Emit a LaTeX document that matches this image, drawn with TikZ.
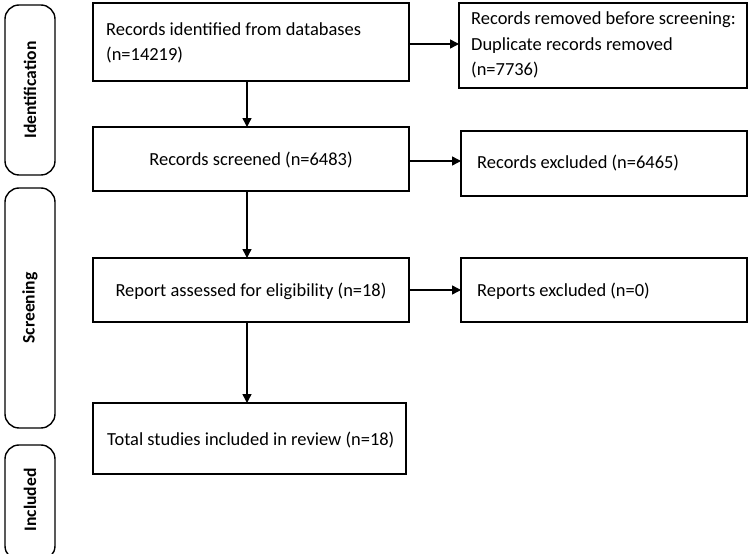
\documentclass[tikz,border=0pt]{standalone}
\usepackage{fontspec}
\setmainfont{Carlito}
\usetikzlibrary{arrows.meta}
\begin{document}
\begin{tikzpicture}[x=0.02cm,y=-0.02cm,
  box/.style={draw,line width=0.6pt},
  side/.style={draw,line width=0.8pt,rounded corners=8pt},
  lab/.style={font=\fontsize{10.5}{14.5}\selectfont,align=left,anchor=west},
  slab/.style={font=\fontsize{10}{12}\selectfont\bfseries,rotate=90},
  arr/.style={-{Triangle[length=5pt,width=5pt]},line width=0.8pt}]
\useasboundingbox (0,0) rectangle (752,554);
\draw[side] (5,5) rectangle (55,175); \node[slab] (si) at (30,90) {Identification};
\draw[side] (5,188) rectangle (55,428); \node[slab] (ss) at (30,308) {Screening};
\draw[side] (5,445) rectangle (55,560); \node[slab] (sn) at (30,500) {Included};
\draw[box] (93,3) rectangle (409,81);
\node[lab] (t1) at (100,43) {Records identified from databases\\(n=14219)};
\draw[box] (459,3) rectangle (747,88);
\node[lab] (t2) at (465,45) {Records removed before screening:\\Duplicate records removed\\(n=7736)};
\draw[box] (93,127) rectangle (409,191);
\node[lab,anchor=center] (t3) at (251,160) {Records screened (n=6483)};
\draw[box] (461,131) rectangle (747,196);
\node[lab] (t4) at (471,163) {Records excluded (n=6465)};
\draw[box] (93,258) rectangle (409,322);
\node[lab,anchor=center] (t5) at (251,291) {Report assessed for eligibility (n=18)};
\draw[box] (461,258) rectangle (747,322);
\node[lab] (t6) at (471,291) {Reports excluded (n=0)};
\draw[box] (93,403) rectangle (406,474);
\node[lab] (t7) at (101,440) {Total studies included in review (n=18)};
\coordinate (a1) at (409,44); \coordinate (a2) at (459,44);
\draw[arr] (a1) -- (a2);
\coordinate (v1) at (247,81); \coordinate (v2) at (247,127);
\draw[arr] (v1) -- (v2);
\coordinate (a3) at (409,161); \coordinate (a4) at (461,161);
\draw[arr] (a3) -- (a4);
\coordinate (v3) at (247,191); \coordinate (v4) at (247,258);
\draw[arr] (v3) -- (v4);
\coordinate (a5) at (409,290); \coordinate (a6) at (461,290);
\draw[arr] (a5) -- (a6);
\coordinate (v5) at (247,322); \coordinate (v6) at (247,403);
\draw[arr] (v5) -- (v6);
\end{tikzpicture}
\end{document}
